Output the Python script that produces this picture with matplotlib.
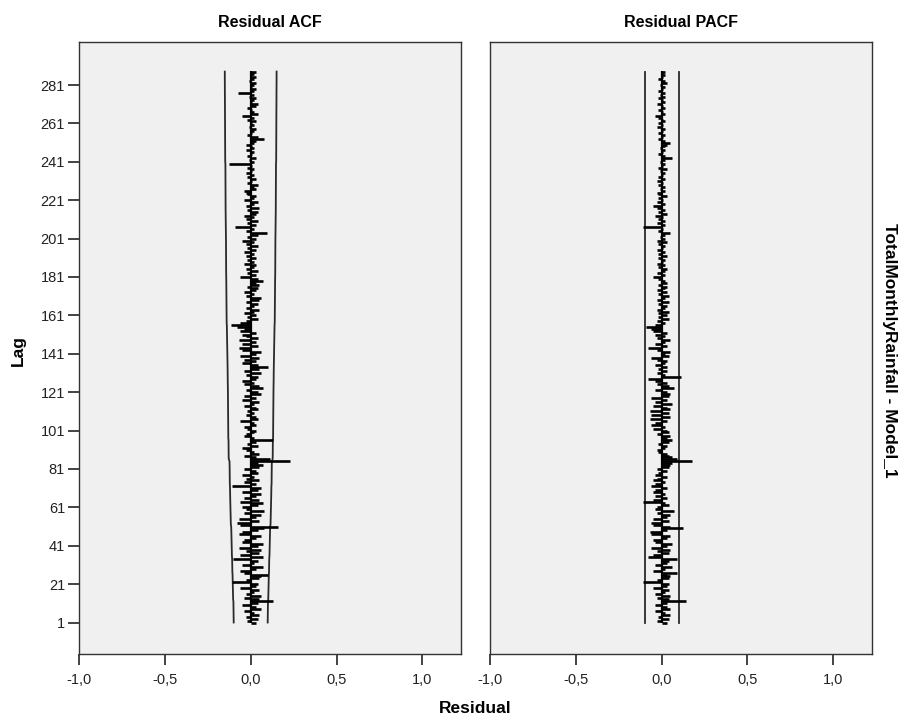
import numpy as np
import matplotlib
matplotlib.use("Agg")
import matplotlib.pyplot as plt

plt.rcParams["font.family"] = ["Liberation Sans", "DejaVu Sans"]

# lags 1..288
lags = np.arange(1, 289)

acf_vals = [
    0.03, -0.02, 0.04, -0.03, 0.05, 0.02, -0.04, 0.06, 0.03, -0.05, 0.04, 0.128,
    0.05, -0.04, 0.06, -0.03, 0.02, 0.05, -0.06, 0.03, 0.04, -0.11, -0.03, 0.05,
    0.06, 0.10, -0.04, -0.06, 0.03, 0.07, -0.05, 0.02, 0.04, -0.105, 0.07, -0.06,
    0.05, -0.03, 0.06, -0.07, 0.04, 0.07, -0.05, -0.04, 0.03, 0.06, -0.07, -0.05,
    0.04, 0.08, 0.157, -0.06, -0.08, 0.05, -0.07, 0.03, 0.06, -0.04, 0.08, -0.03,
    -0.05, 0.04, 0.07, -0.06, 0.05, -0.04, 0.03, 0.06, -0.05, 0.04, 0.06, -0.11,
    0.03, -0.04, 0.05, -0.03, 0.02, -0.05, 0.04, 0.03, -0.04, 0.05, 0.07, 0.04,
    0.227, 0.11, 0.03, -0.04, 0.05, 0.02, -0.03, -0.05, 0.04, -0.02, 0.03, 0.128,
    0.02, -0.04, -0.03, 0.02, 0.03, -0.02, -0.04, 0.03, 0.02, -0.06, 0.04, 0.03,
    -0.03, 0.02, -0.02, 0.04, 0.03, -0.04, 0.02, 0.05, -0.05, 0.03, -0.04, 0.06,
    0.04, -0.03, 0.07, 0.05, -0.04, 0.02, -0.05, 0.03, 0.04, -0.03, 0.06, -0.04,
    0.05, 0.10, 0.04, -0.05, 0.03, -0.04, 0.05, -0.06, 0.03, 0.06, -0.05, -0.07,
    0.04, -0.05, 0.03, -0.07, 0.04, -0.03, -0.05, 0.03, -0.06, -0.04, -0.08, -0.116,
    -0.06, -0.03, 0.04, -0.02, 0.03, -0.04, 0.02, 0.05, -0.03, 0.02, 0.04, -0.03,
    0.05, 0.06, -0.03, 0.02, -0.04, 0.03, 0.04, -0.02, 0.05, 0.03, 0.07, 0.04,
    -0.064, 0.03, -0.02, 0.04, -0.03, 0.02, 0.03, -0.04, 0.02, -0.02, 0.03, -0.03,
    0.02, -0.04, 0.03, -0.02, 0.04, -0.03, 0.02, -0.05, 0.03, -0.02, 0.04, 0.093,
    -0.03, 0.02, -0.093, 0.03, -0.02, 0.04, -0.03, 0.02, -0.04, 0.03, 0.04, -0.02,
    0.05, -0.03, 0.02, 0.04, -0.04, 0.02, 0.03, -0.02, -0.03, -0.04, 0.03, 0.02,
    0.04, -0.02, 0.01, 0.03, -0.02, 0.02, -0.03, 0.01, 0.02, -0.02, 0.01, -0.128,
    0.02, -0.01, 0.03, -0.02, 0.01, 0.02, -0.03, 0.02, 0.01, -0.03, 0.02, 0.03,
    0.08, 0.04, -0.02, 0.01, 0.02, 0.03, -0.01, 0.02, 0.01, 0.03, -0.02, 0.02,
    -0.05, 0.04, 0.02, 0.01, -0.02, 0.03, 0.04, 0.01, 0.02, 0.03, -0.01, 0.02,
    -0.076, 0.02, 0.03, 0.01, 0.02, 0.03, -0.01, 0.02, 0.03, 0.01, 0.02, 0.03,
]

pacf_vals = [
    0.03, -0.03, 0.04, -0.02, 0.05, 0.02, -0.04, 0.05, 0.03, -0.04, 0.03, 0.14,
    0.04, -0.03, 0.05, -0.04, 0.02, 0.04, -0.05, 0.03, 0.04, -0.11, -0.03, 0.04,
    0.05, 0.03, 0.09, -0.05, 0.02, 0.06, -0.04, 0.03, 0.04, 0.09, -0.08, -0.05,
    0.04, -0.03, 0.05, -0.06, 0.03, 0.06, -0.04, -0.05, 0.03, 0.05, -0.06, -0.07,
    0.03, 0.125, 0.05, -0.05, -0.06, 0.04, -0.05, 0.03, 0.05, -0.03, 0.07, -0.04,
    -0.03, 0.04, 0.02, -0.11, -0.05, 0.03, -0.04, 0.02, -0.05, -0.04, 0.03, -0.06,
    -0.04, 0.02, -0.05, -0.03, 0.03, -0.04, -0.02, 0.03, -0.03, 0.04, 0.05, 0.06,
    0.175, 0.09, 0.06, 0.04, 0.03, -0.02, -0.03, 0.02, 0.03, -0.02, 0.04, 0.06,
    0.03, 0.05, -0.03, 0.04, 0.03, -0.05, 0.02, -0.06, -0.04, 0.03, -0.07, 0.05,
    -0.06, 0.04, -0.07, 0.05, 0.03, -0.05, 0.06, -0.04, 0.03, -0.06, 0.04, 0.05,
    0.03, -0.04, 0.07, 0.04, -0.03, 0.03, -0.04, -0.08, 0.115, 0.02, -0.03, 0.03,
    -0.02, 0.03, -0.04, 0.02, 0.03, -0.03, -0.06, 0.04, 0.02, 0.05, -0.03, -0.08,
    0.03, -0.04, 0.02, 0.05, -0.03, 0.02, -0.04, 0.03, -0.05, -0.06, -0.09, -0.04,
    0.02, -0.03, 0.04, -0.02, 0.03, -0.02, 0.04, -0.03, 0.02, 0.03, -0.02, 0.04,
    -0.03, 0.02, 0.04, -0.02, 0.03, -0.03, 0.02, 0.03, -0.02, 0.03, 0.02, -0.02,
    -0.05, 0.02, -0.03, 0.02, 0.03, -0.02, 0.02, -0.03, 0.01, 0.02, -0.02, 0.03,
    -0.02, 0.02, -0.03, 0.01, 0.02, -0.02, 0.03, -0.03, 0.02, -0.01, 0.02, 0.05,
    -0.02, 0.01, -0.11, 0.02, -0.03, 0.02, -0.02, 0.01, -0.04, 0.03, -0.02, 0.02,
    -0.03, -0.05, 0.02, -0.03, 0.01, -0.02, 0.03, -0.02, -0.03, 0.02, -0.01, 0.02,
    -0.02, 0.01, -0.03, 0.02, -0.02, 0.01, 0.02, -0.01, 0.03, -0.02, 0.01, 0.02,
    -0.01, 0.02, 0.06, 0.02, -0.02, 0.01, 0.02, -0.01, 0.02, 0.03, 0.05, 0.02,
    -0.02, 0.01, 0.02, -0.02, 0.01, 0.02, -0.03, 0.01, -0.02, 0.02, 0.01, -0.02,
    -0.04, 0.02, 0.01, -0.02, 0.02, 0.01, -0.03, 0.02, 0.01, -0.02, 0.02, -0.01,
    0.02, -0.02, 0.01, 0.02, -0.01, 0.03, 0.02, -0.02, 0.01, 0.02, 0.01, 0.02,
]

n_obs = 392  # effective series length behind the 95% limits
ytick_vals = [1, 21, 41, 61, 81, 101, 121, 141, 161, 181, 201, 221, 241, 261, 281]
xtick_vals = [-1.0, -0.5, 0.0, 0.5, 1.0]
xtick_labels = ["-1,0", "-0,5", "0,0", "0,5", "1,0"]

acf = np.array(acf_vals)
pacf = np.array(pacf_vals)

# Bartlett limits for the ACF, flat limits for the PACF
cum = np.concatenate([[0.0], np.cumsum(acf[:-1] ** 2)])
acf_lim = 1.96 * np.sqrt((1 + 2 * cum) / n_obs)
pacf_lim = np.full(len(lags), 1.96 / np.sqrt(n_obs))

fig = plt.figure(figsize=(9.05, 7.22), dpi=100)
ax1 = fig.add_axes([0.0873, 0.0942, 0.4221, 0.8476])
ax2 = fig.add_axes([0.5414, 0.0942, 0.4221, 0.8476])

panels = [(ax1, acf, acf_lim, "Residual ACF"), (ax2, pacf, pacf_lim, "Residual PACF")]
for ax, vals, lim, title in panels:
    ax.set_facecolor("#f0f0f0")
    ax.plot(lim, lags, color="#2a2a2a", lw=1.3)
    ax.plot(-lim, lags, color="#2a2a2a", lw=1.3)
    ax.hlines(lags, 0, vals, color="black", lw=1.9)
    # bars all start from zero, which reads as a dark spine
    ax.vlines(0, lags[0] - 0.5, lags[-1] + 0.5, color="black", lw=1.6)
    ax.set_xlim(-1.0, 1.225)
    ax.set_ylim(-15.4, 303.4)
    ax.set_xticks(xtick_vals)
    ax.set_xticklabels(xtick_labels)
    ax.set_title(title, fontsize=11.5, fontweight="bold", pad=11)
    ax.tick_params(axis="x", length=8, width=1.2, labelsize=10.5, pad=6, colors="#222222")
    for s in ax.spines.values():
        s.set_color("#333333")
        s.set_linewidth(1.0)

ax1.set_yticks(ytick_vals)
ax1.tick_params(axis="y", length=8, width=1.2, labelsize=10.5, pad=2, colors="#222222")
ax2.set_yticks([])

fig.text(0.02, 0.515, "Lag", rotation=90, fontsize=12.5, fontweight="bold",
         ha="center", va="center")
fig.text(0.5255, 0.019, "Residual", fontsize=12.5, fontweight="bold",
         ha="center", va="center")
fig.text(0.983, 0.515, "TotalMonthlyRainfall - Model_1", rotation=270, fontsize=12.5,
         fontweight="bold", ha="center", va="center")

fig.savefig("out.png", dpi=100)
